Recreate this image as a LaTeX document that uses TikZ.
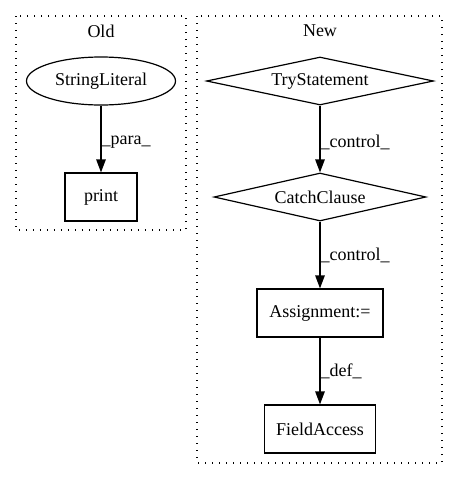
\documentclass[tikz,border=0pt]{standalone}
\usepackage{fontspec}
\setmainfont{Liberation Serif}
\usetikzlibrary{shapes.geometric,arrows.meta,positioning}

\begin{document}
\begin{tikzpicture}[
            x=1pt, y=1pt,
            node distance=116pt,
            font=\fontsize{18}{21}\selectfont,
            literal/.style={ellipse, draw, line width=1.2pt, inner sep=0pt, minimum width=149pt, minimum height=48pt},
            stmt/.style={rectangle, draw, line width=1.2pt, inner sep=0pt, minimum height=48pt},
            branch/.style={diamond, draw, line width=1.2pt, inner sep=0pt, aspect=4.7, minimum height=48pt},
            cluster/.style={line width=1.1pt, dash pattern=on 1.3pt off 5.7pt},
            flow/.style={-{Triangle[length=13pt,width=9.5pt]}, line width=1.2pt},
            ]
            \useasboundingbox (0,0) rectangle (459,-480);
            % clusters
            \draw[cluster] (16,-16) rectangle (186,-230);
            \draw[cluster] (197,-16) rectangle (442,-463);
            \node (OldLabel) at (101,-31) {Old};
            \node (NewLabel) at (320,-31) {New};

            % old
            \node (SL) [literal] at (101,-81) {StringLiteral};
            \node (PR) [below of=SL] [stmt, minimum width=72pt] {print};

            % new
            \node (TS) [branch, minimum width=227pt] at (320,-81) {TryStatement};
            \node (CC) [below of=TS] [branch, minimum width=212pt] {CatchClause};
            \node (AS) [below of=CC] [stmt, minimum width=126pt] {Assignment:=};
            \node (FA) [below of=AS] [stmt, minimum width=111pt] {FieldAccess};

            \draw[flow] (SL) -- node[right, inner sep=0pt, yshift=-3pt] {\_para\_} (PR);
            \draw[flow] (TS) -- node[right, inner sep=0pt, yshift=-3pt] {\_control\_} (CC);
            \draw[flow] (CC) -- node[right, inner sep=0pt] {\_control\_} (AS);
            \draw[flow] (AS) -- node[right, inner sep=0pt] {\_def\_} (FA);
        \end{tikzpicture}
\end{document}
